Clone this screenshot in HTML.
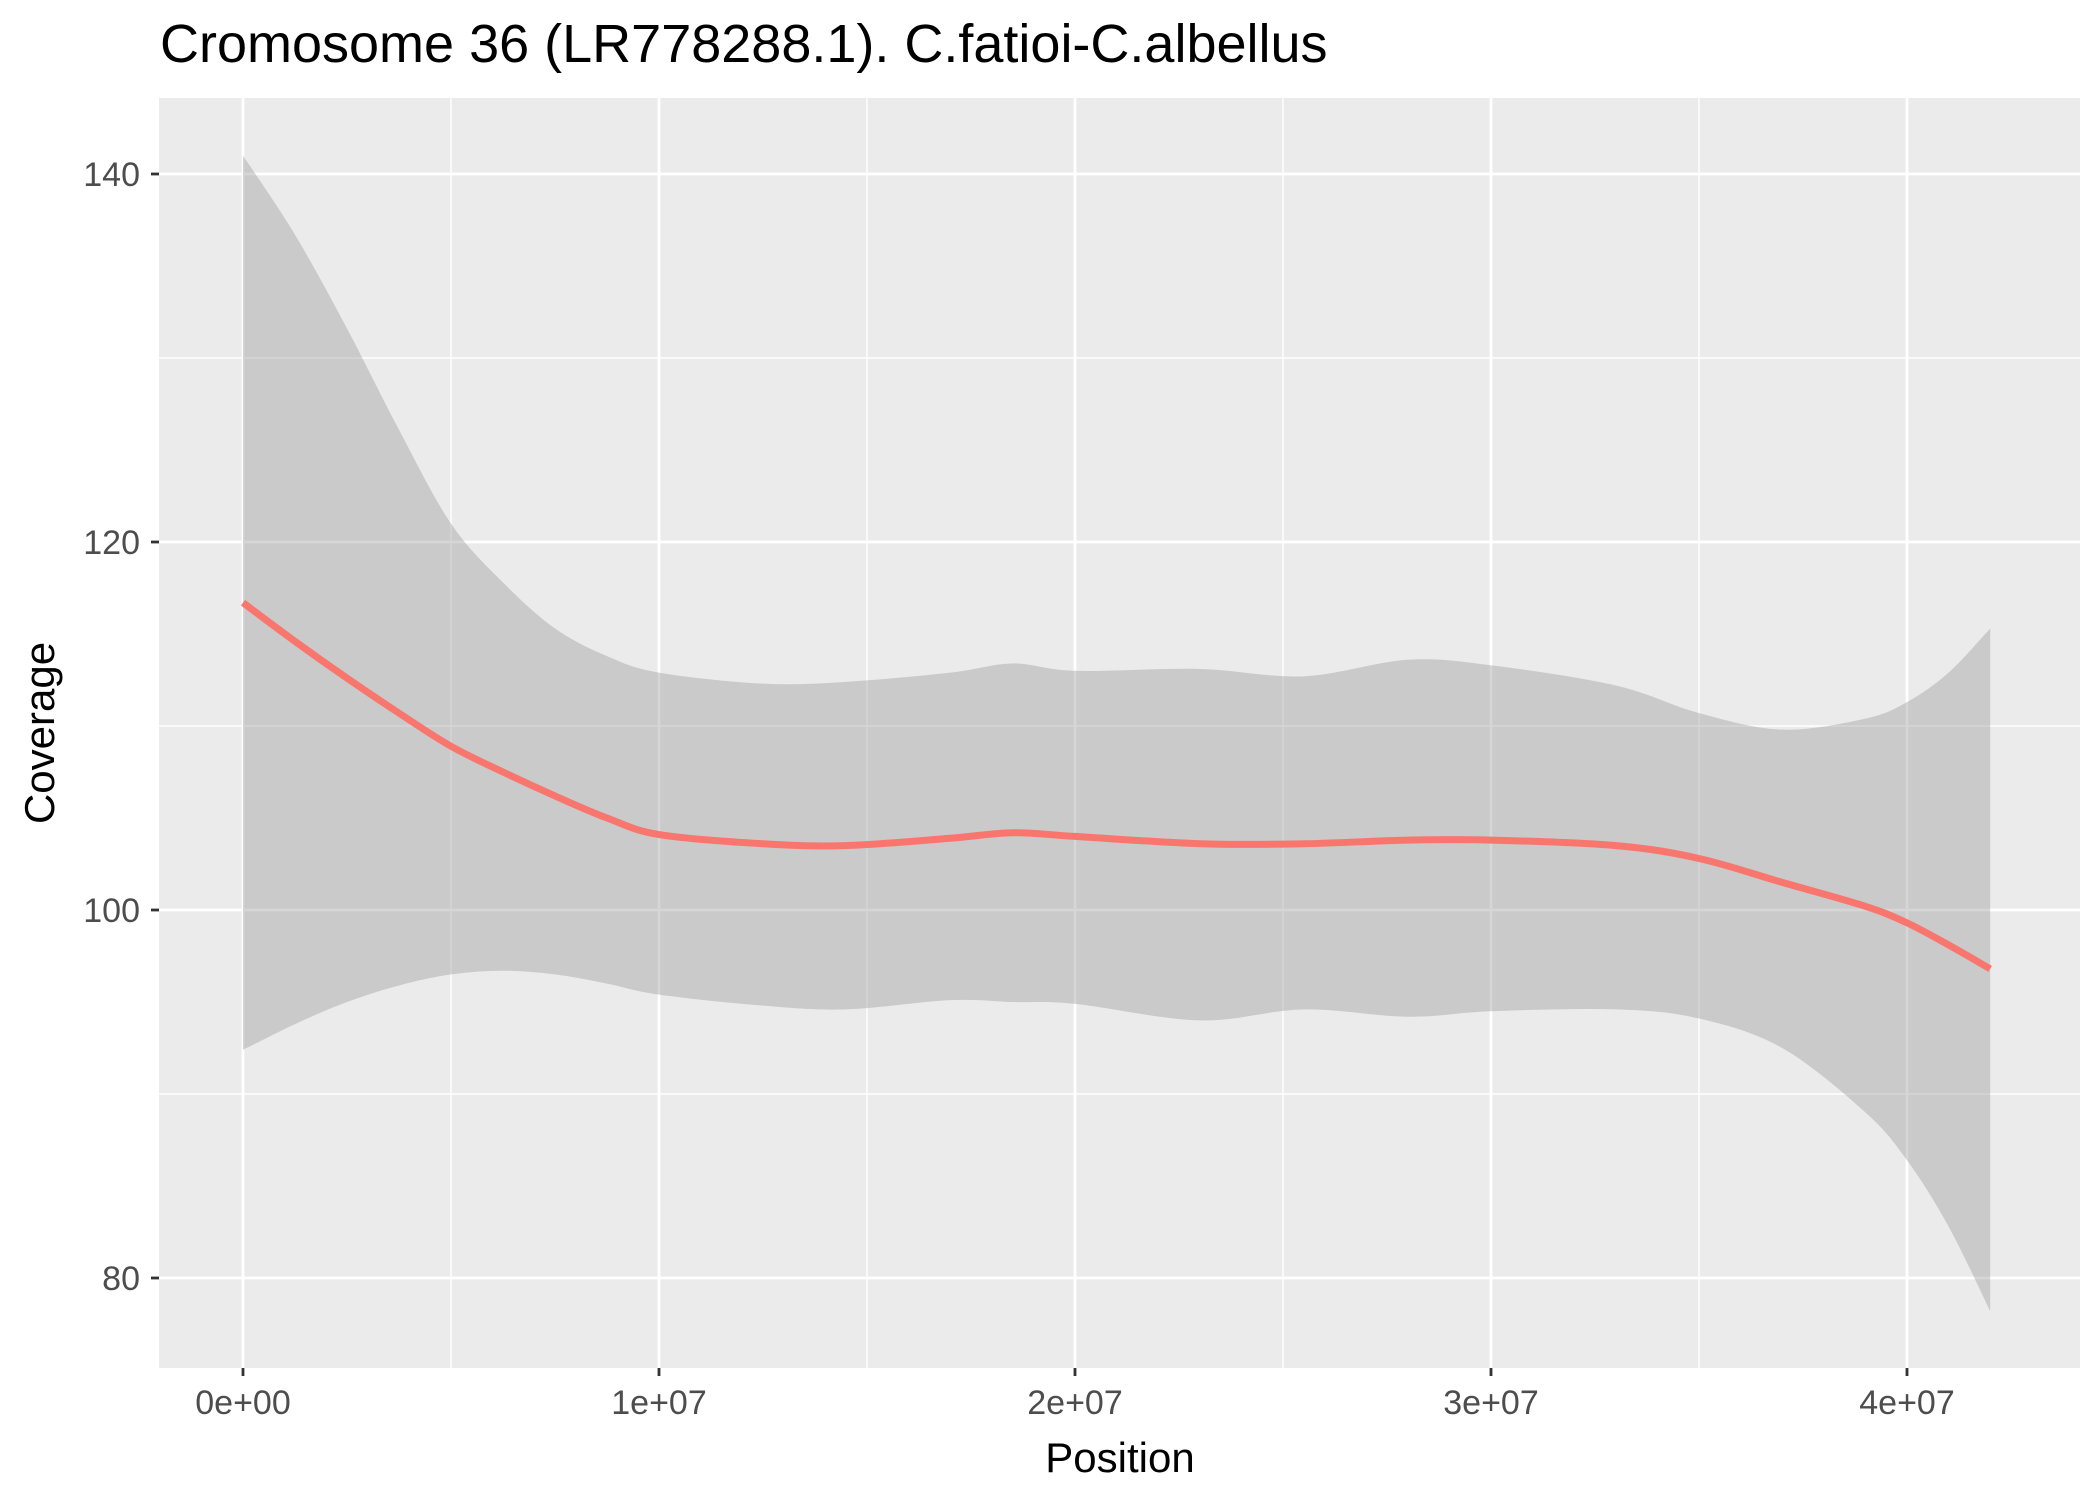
<!DOCTYPE html>
<html><head><meta charset="utf-8"><style>
html,body{margin:0;padding:0;background:#fff;}
svg{display:block;font-family:"Liberation Sans",Arial,sans-serif;}
</style></head><body>
<svg id="chart" width="2100" height="1499" viewBox="0 0 2100 1499" xmlns="http://www.w3.org/2000/svg">
<rect width="2100" height="1499" fill="#fff"/>
<text x="160" y="62" font-size="54" fill="#000">Cromosome 36 (LR778288.1). C.fatioi-C.albellus</text>
<rect x="159" y="98" width="1921" height="1270" fill="#ebebeb"/>
<g id="grid"></g>
<g id="marks"></g>
<g id="axes"></g>
<text x="1120" y="1472" font-size="42" text-anchor="middle" fill="#000">Position</text>
<text transform="translate(54,733) rotate(-90)" font-size="42" text-anchor="middle" fill="#000">Coverage</text>
</svg>
<script>
const xPos = [0,1.25,2.5,3.75,5,6.25,7.5,8.75,10,12.5,14.5,17,18.5,20,23,25.5,28,30,33,35,37,39,40,41,42.0];
const meanVals = [116.7,114.6,112.6,110.7,108.9,107.5,106.2,105.0,104.1,103.6,103.5,103.9,104.2,104.0,103.6,103.6,103.8,103.8,103.5,102.8,101.5,100.2,99.3,98.1,96.8];
const upperVals = [141,136.7,131.6,126.1,121.0,117.8,115.3,113.8,112.9,112.3,112.4,112.9,113.4,113.0,113.1,112.7,113.6,113.3,112.2,110.7,109.8,110.4,111.3,112.9,115.3];
const lowerVals = [92.4,93.8,95.0,95.9,96.5,96.7,96.5,96.0,95.4,94.8,94.6,95.1,95.0,94.9,94.0,94.6,94.2,94.5,94.6,94.1,92.5,89.0,86.4,82.8,78.2];
const xTicks = [0,10,20,30,40];
const xTickLabels = ["0e+00","1e+07","2e+07","3e+07","4e+07"];
const yTicks = [80,100,120,140];
const xMinor = [5,15,25,35];
const yMinor = [90,110,130];

const NS="http://www.w3.org/2000/svg";
const xs = v => 243 + v*41.6;
const ys = v => 910 - (v-100)*18.4;
function mk(tag, attrs, parent){const e=document.createElementNS(NS,tag);for(const k in attrs)e.setAttribute(k,attrs[k]);document.getElementById(parent).appendChild(e);return e;}
function smooth(pts){let d="M"+pts[0][0]+","+pts[0][1];for(let i=0;i<pts.length-1;i++){const p0=pts[Math.max(0,i-1)],p1=pts[i],p2=pts[i+1],p3=pts[Math.min(pts.length-1,i+2)];const c1=[p1[0]+(p2[0]-p0[0])/6,p1[1]+(p2[1]-p0[1])/6];const c2=[p2[0]-(p3[0]-p1[0])/6,p2[1]-(p3[1]-p1[1])/6];d+=" C"+c1[0]+","+c1[1]+" "+c2[0]+","+c2[1]+" "+p2[0]+","+p2[1];}return d;}

xMinor.forEach(v=>{const e=mk("line",{x1:xs(v),x2:xs(v),y1:98,y2:1368,stroke:"#fff","stroke-width":1.4},"grid");

});
yMinor.forEach(v=>{const e=mk("line",{x1:159,x2:2080,y1:ys(v),y2:ys(v),stroke:"#fff","stroke-width":1.4},"grid");

});
xTicks.forEach(v=>{const e=mk("line",{x1:xs(v),x2:xs(v),y1:98,y2:1368,stroke:"#fff","stroke-width":2.8},"grid");

});
yTicks.forEach(v=>{const e=mk("line",{x1:159,x2:2080,y1:ys(v),y2:ys(v),stroke:"#fff","stroke-width":2.8},"grid");

});

const up=xPos.map((x,i)=>[xs(x),ys(upperVals[i])]);
const lo=xPos.map((x,i)=>[xs(x),ys(lowerVals[i])]).reverse();
let bandD=smooth(up)+" L"+lo[0][0]+","+lo[0][1]+smooth(lo).replace(/^M[^ ]+/,"")+" Z";
const band=mk("path",{d:bandD,fill:"#999","fill-opacity":0.4},"marks");


const line=mk("path",{d:smooth(xPos.map((x,i)=>[xs(x),ys(meanVals[i])])),fill:"none",stroke:"#f8766d","stroke-width":7},"marks");



xTicks.forEach((v,i)=>{const t=mk("line",{x1:xs(v),x2:xs(v),y1:1368,y2:1376,stroke:"#333","stroke-width":2.8},"axes");


const l=mk("text",{x:xs(v),y:1414,"font-size":34,"text-anchor":"middle",fill:"#4d4d4d"},"axes");l.textContent=xTickLabels[i];

});
yTicks.forEach(v=>{const t=mk("line",{x1:151,x2:159,y1:ys(v),y2:ys(v),stroke:"#333","stroke-width":2.8},"axes");


const l=mk("text",{x:140,y:ys(v)+12,"font-size":34,"text-anchor":"end",fill:"#4d4d4d"},"axes");l.textContent=String(v);

});
</script>
</body></html>
